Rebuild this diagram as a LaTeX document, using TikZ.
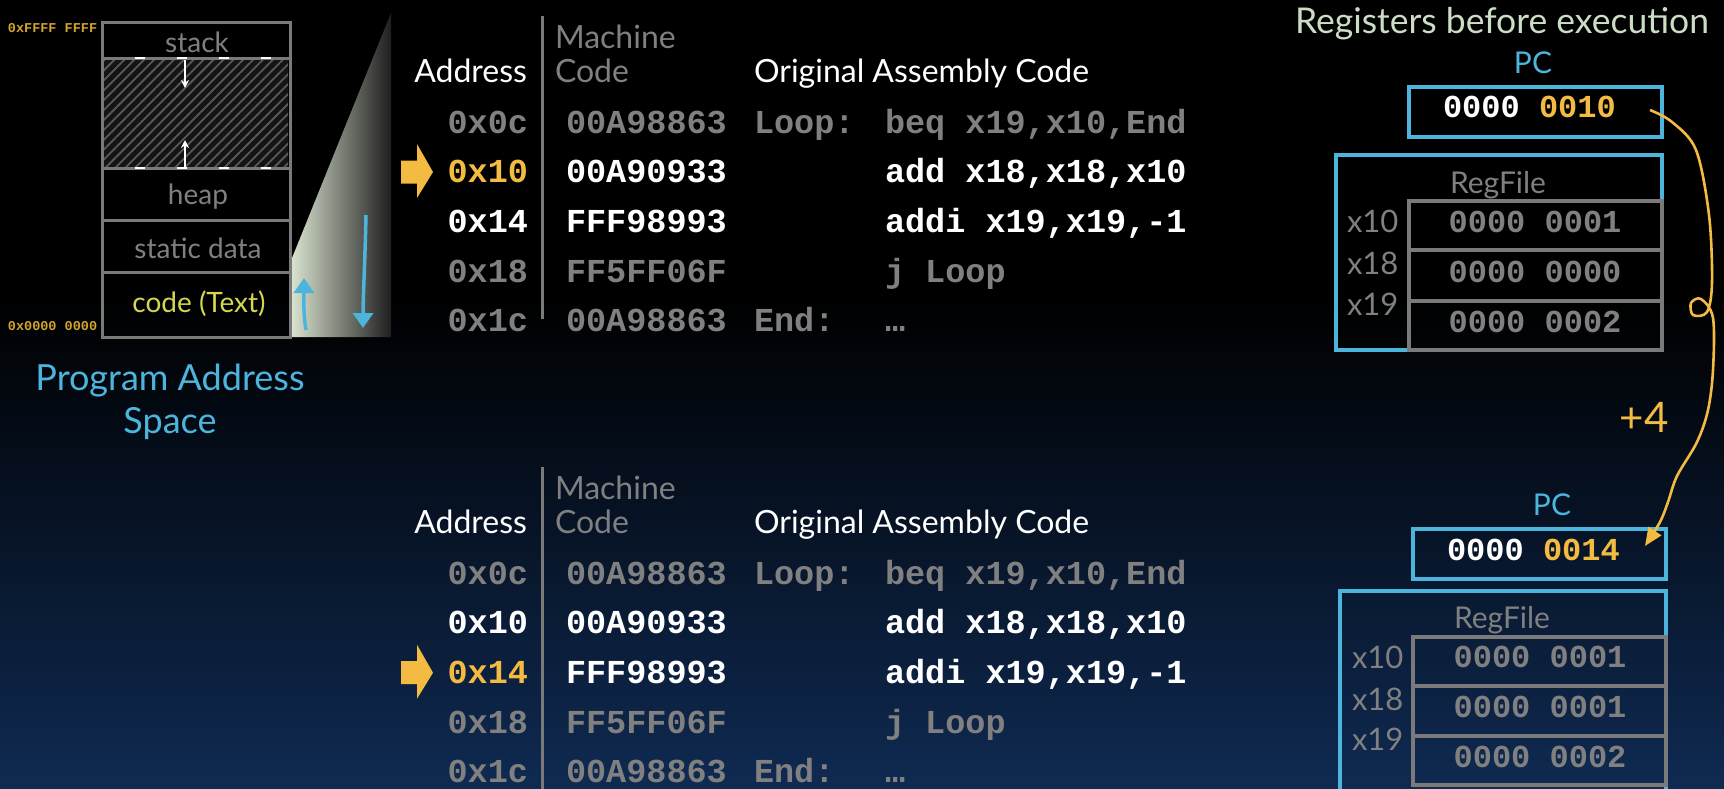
\documentclass[tikz,border=0pt]{standalone}
\usepackage{fontspec}
\setmainfont{Lato}
\newfontfamily\cmono{Liberation Mono}
\usetikzlibrary{arrows.meta,patterns.meta}
\definecolor{gtext}{HTML}{808080}
\definecolor{gline}{HTML}{7A7A7A}
\definecolor{accent}{HTML}{F4BB42}
\definecolor{addrylw}{HTML}{D2A42E}
\definecolor{codeylw}{HTML}{D8D650}
\definecolor{skyb}{HTML}{4DB4DC}
\definecolor{sage}{HTML}{CBDDC4}
\definecolor{navyb}{HTML}{0F2A52}
\definecolor{wedgeL}{HTML}{DCE6D2}
\definecolor{hatchc}{HTML}{5A5A5A}
\tikzset{
  txt/.style={inner sep=0pt, outer sep=0pt},
  hdr/.style={txt, font=\fontsize{32}{38}\selectfont},
  memtxt/.style={txt, text=gtext, font=\fontsize{28}{34}\selectfont, anchor=base},
  codefont/.style={txt, font=\cmono\bfseries\fontsize{33.5}{40}\selectfont},
  smalladdr/.style={txt, text=addrylw, font=\cmono\bfseries\fontsize{13.5}{16}\selectfont, anchor=base west},
  grayline/.style={draw=gline, line width=3pt},
  bluebox/.style={draw=skyb, line width=3.2pt},
  regbox/.style={draw=gline, line width=3.2pt},
  regval/.style={txt, text=gtext, font=\cmono\bfseries\fontsize{32}{38}\selectfont, anchor=base},
  pcval/.style={txt, text=white, font=\cmono\bfseries\fontsize{32}{38}\selectfont, anchor=base west},
  reglbl/.style={txt, text=gtext, font=\fontsize{31}{36}\selectfont, anchor=base west},
  pclbl/.style={txt, text=skyb, font=\fontsize{30}{36}\selectfont, anchor=base},
  bluearrow/.style={draw=skyb, line width=3.5pt, -{Triangle[length=15pt,width=20pt]}},
  whitearrow/.style={draw=white, line width=2pt, -{Stealth[length=8pt,width=8pt]}},
  ylwarrow/.style={draw=accent, line width=2.6pt, -{Triangle[length=18pt,width=15pt]}}
}
\begin{document}
\begin{tikzpicture}[x=1pt,y=-1pt]
\useasboundingbox (0,0) rectangle (1724,788);
% background
\fill[black] (0,0) rectangle (1724,301);
\shade[top color=black, bottom color=navyb] (0,300) rectangle (1724,788);

% ---------- zoom wedge ----------
\shade[left color=wedgeL, right color=black!88] (290,263) -- (391,13) -- (391,337) -- (290,337) -- cycle;

% ---------- memory layout ----------
\fill[black!92] (104,59) rectangle (288,168);
\fill[pattern={Lines[angle=45,distance=7pt,line width=1.8pt]}, pattern color=hatchc] (104,59) rectangle (288,168);
\draw[grayline] (102,22) rectangle (290,337);
\foreach \yy in {58,168,220,272} { \draw[grayline] (102,\yy) -- (290,\yy); }
\draw[white, line width=1.6pt, dash pattern=on 10pt off 32pt] (135,58) -- (290,58);
\draw[white, line width=1.6pt, dash pattern=on 10pt off 32pt] (135,168) -- (290,168);
\coordinate (sA) at (185,60);
\coordinate (sB) at (185,88);
\coordinate (hA) at (185,167);
\coordinate (hB) at (185,140);
\draw[whitearrow] (sA) -- (sB);
\draw[whitearrow] (hA) -- (hB);

\node[memtxt] (mstack) at (197,52) {stack};
\node[memtxt] (mheap) at (198,204) {heap};
\node[memtxt] (mstatic) at (198,258) {static data};
\node[memtxt, text=codeylw] (mcode) at (199,312) {code (Text)};
\node[smalladdr] (topaddr) at (8,32) {0xFFFF FFFF};
\node[smalladdr] (botaddr) at (8,330) {0x0000 0000};

\coordinate (ua) at (306,330);
\coordinate (ub) at (304,278);
\coordinate (da) at (366,215);
\coordinate (db) at (363,328);
\draw[bluearrow] (ua) .. controls (303,312) and (304,296) .. (ub);
\draw[bluearrow] (da) .. controls (365,260) and (363,300) .. (db);

\node[txt, text=skyb, font=\fontsize{36}{43}\selectfont, anchor=base] (pas1) at (170,390) {Program Address};
\node[txt, text=skyb, font=\fontsize{36}{43}\selectfont, anchor=base] (pas2) at (170,433) {Space};

% ---------- code tables ----------
\foreach \p/\dy/\ya/\yb/\hr/\lt/\lb in {T/0/accent/white/1/16/319, B/451/white/accent/2/467/790} {
  \draw[grayline] (542,\lt) -- (542,\lb);
  \node[hdr, text=white, anchor=base east] (\p-haddr) at (527,82+\dy) {Address};
  \node[hdr, text=gtext, anchor=base west] (\p-hmach) at (555,48+\dy) {Machine};
  \node[hdr, text=gtext, anchor=base west] (\p-hcode) at (555,82+\dy) {Code};
  \node[hdr, text=white, anchor=base west] (\p-hasm) at (754,82+\dy) {Original Assembly Code};
  \foreach \r/\ad/\mc/\lab/\ins/\ca/\cc in {
      0/0x0c/00A98863/{Loop:}/{beq x19,x10,End}/gtext/gtext,
      1/0x10/00A90933/{}/{add x18,x18,x10}/\ya/white,
      2/0x14/FFF98993/{}/{addi x19,x19,-1}/\yb/white,
      3/0x18/FF5FF06F/{}/{j Loop}/gtext/gtext,
      4/0x1c/00A98863/{End:}/{…}/gtext/gtext} {
    \node[codefont, text=\ca, anchor=base east] (\p-a\r) at (528,133+49.7*\r+\dy) {\ad};
    \node[codefont, text=\cc, anchor=base west] (\p-m\r) at (566,133+49.7*\r+\dy) {\mc};
    \node[codefont, text=gtext, anchor=base west] (\p-l\r) at (754,133+49.7*\r+\dy) {\lab};
    \node[codefont, text=\cc, anchor=base west] (\p-i\r) at (885,133+49.7*\r+\dy) {\ins};
  }
  \coordinate (\p-arr) at (401,172+49.7*\hr-49.7+\dy);
  \fill[accent, shift={(\p-arr)}] (0,-11.5) -- (16,-11.5) -- (16,-28) -- (32,0) -- (16,26) -- (16,11.5) -- (0,11.5) -- cycle;
}

% ---------- registers before ----------
\node[txt, text=sage, font=\fontsize{35.5}{42}\selectfont, anchor=base west] (title) at (1295,33) {Registers before execution};
\node[pclbl] (pcT) at (1533,73) {PC};
\draw[bluebox] (1409,87) rectangle (1662,137);
\node[pcval] (pcvT) at (1443,117) {0000 \textcolor{accent}{0010}};
\draw[bluebox] (1336,155) rectangle (1662,350);
\node[txt, text=gtext, font=\fontsize{30}{36}\selectfont, anchor=base] (rfT) at (1498,193) {RegFile};
\draw[regbox] (1409,201) rectangle (1662,250);
\draw[regbox] (1409,250) rectangle (1662,301);
\draw[regbox] (1409,301) rectangle (1662,350);
\node[regval] (vT1) at (1535,232) {0000 0001};
\node[regval] (vT2) at (1535,282) {0000 0000};
\node[regval] (vT3) at (1535,332) {0000 0002};
\node[reglbl] (xT1) at (1347,232) {x10};
\node[reglbl] (xT2) at (1347,274) {x18};
\node[reglbl] (xT3) at (1347,315) {x19};

% ---------- registers after ----------
\node[pclbl] (pcB) at (1552,515) {PC};
\draw[bluebox] (1413,529) rectangle (1666,579);
\node[pcval] (pcvB) at (1447,560) {0000 \textcolor{accent}{0014}};
\draw[bluebox] (1666,800) -- (1666,591) -- (1340,591) -- (1340,800);
\node[txt, text=gtext, font=\fontsize{30}{36}\selectfont, anchor=base] (rfB) at (1502,628) {RegFile};
\draw[regbox] (1413,637) rectangle (1666,686);
\draw[regbox] (1413,686) rectangle (1666,736);
\draw[regbox] (1413,736) rectangle (1666,785);
\node[regval] (vB1) at (1540,667) {0000 0001};
\node[regval] (vB2) at (1540,717) {0000 0001};
\node[regval] (vB3) at (1540,767) {0000 0002};
\node[reglbl] (xB1) at (1352,668) {x10};
\node[reglbl] (xB2) at (1352,710) {x18};
\node[reglbl] (xB3) at (1352,750) {x19};

% ---------- +4 arrow ----------
\node[txt, text=accent, font=\fontsize{42}{50}\selectfont, anchor=base] (plus4) at (1644,432) {+4};
\coordinate (ys) at (1650,110);
\coordinate (ye) at (1645,546);
\draw[ylwarrow] plot[smooth, tension=0.55] coordinates {(ys) (1672,122) (1696,150) (1709,215) (1712,282) (1707,312) (1693,315) (1691,303) (1701,299) (1713,318) (1713,370) (1708,410) (1697,442) (1677,476) (1668,502) (1660,522) (ye)};
\end{tikzpicture}
\end{document}
